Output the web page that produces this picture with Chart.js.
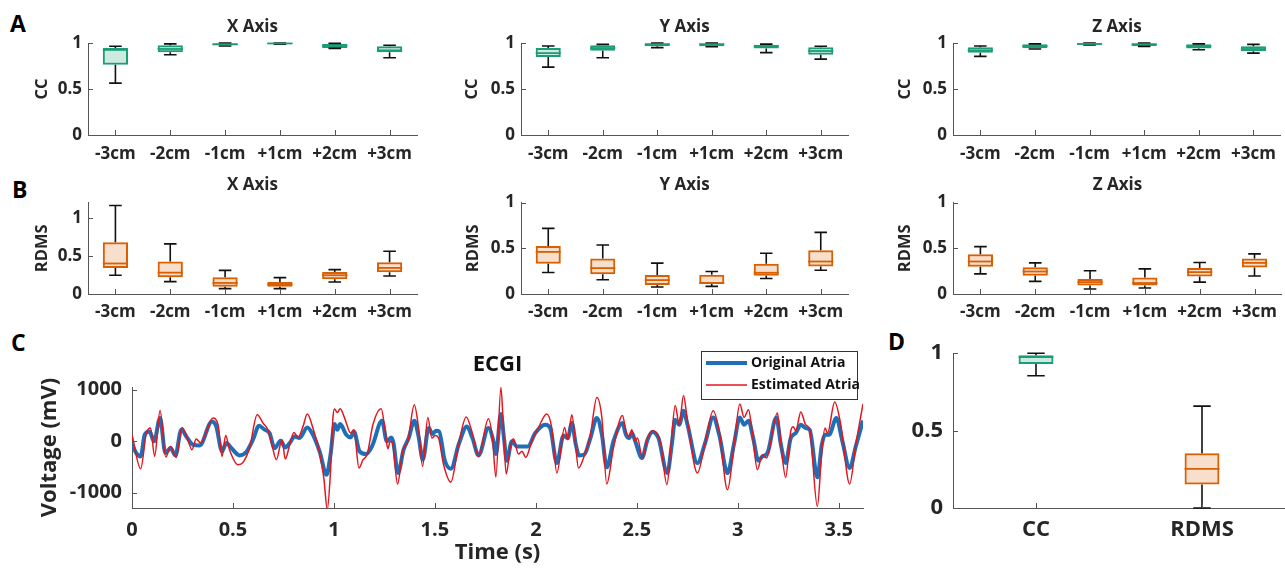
<!DOCTYPE html>
<html>
<head>
<meta charset="utf-8">
<script src="https://cdn.jsdelivr.net/npm/chart.js@4.4.0/dist/chart.umd.min.js"></script>
<style>
body { margin: 0; background: #fff; width: 1285px; height: 575px; position: relative; overflow: hidden; font-family: "Open Sans", sans-serif; }
canvas { position: absolute; }
.tag { position: absolute; font-weight: bold; font-size: 23px; line-height: 23px; color: #000; }
</style>
</head>
<body>
<div class="tag" style="left:10px;top:12px">A</div>
<div class="tag" style="left:12px;top:178px">B</div>
<div class="tag" style="left:11px;top:331px">C</div>
<div class="tag" style="left:888px;top:330px">D</div>

<canvas id="ccX" width="425" height="165" style="left:0px;top:0px"></canvas>
<canvas id="ccY" width="426" height="165" style="left:430px;top:0px"></canvas>
<canvas id="ccZ" width="430" height="165" style="left:855px;top:0px"></canvas>
<canvas id="rdmsX" width="425" height="160" style="left:0px;top:165px"></canvas>
<canvas id="rdmsY" width="426" height="160" style="left:430px;top:165px"></canvas>
<canvas id="rdmsZ" width="430" height="160" style="left:855px;top:165px"></canvas>
<canvas id="ecgi" width="870" height="245" style="left:0px;top:330px"></canvas>
<canvas id="summary" width="385" height="245" style="left:900px;top:330px"></canvas>

<script>
// electrode shifts
positions = ['-3cm', '-2cm', '-1cm', '+1cm', '+2cm', '+3cm']

// each row: lower whisker, q1, median, q3, upper whisker
ccX = [
    [0.564, 0.764, 0.925, 0.945, 0.964],
    [0.873, 0.900, 0.935, 0.975, 0.990],
    [0.967, 0.975, 0.985, 0.996, 1.000],
    [0.988, 0.990, 0.995, 1.000, 1.000],
    [0.942, 0.945, 0.971, 0.990, 0.996],
    [0.840, 0.900, 0.920, 0.964, 0.975]
]
ccY = [
    [0.738, 0.847, 0.890, 0.945, 0.967],
    [0.840, 0.916, 0.945, 0.975, 0.985],
    [0.950, 0.964, 0.985, 0.996, 1.000],
    [0.960, 0.965, 0.985, 0.996, 1.000],
    [0.895, 0.940, 0.964, 0.982, 0.988],
    [0.825, 0.873, 0.913, 0.953, 0.964]
]
ccZ = [
    [0.855, 0.895, 0.920, 0.953, 0.967],
    [0.935, 0.942, 0.967, 0.987, 0.990],
    [0.980, 0.982, 0.990, 0.998, 1.000],
    [0.963, 0.967, 0.985, 0.996, 1.000],
    [0.927, 0.940, 0.965, 0.987, 0.990],
    [0.890, 0.910, 0.935, 0.964, 0.985]
]
rdmsX = [
    [0.246, 0.342, 0.400, 0.680, 1.160],
    [0.162, 0.219, 0.280, 0.425, 0.658],
    [0.070, 0.096, 0.145, 0.219, 0.310],
    [0.070, 0.096, 0.127, 0.158, 0.215],
    [0.158, 0.193, 0.246, 0.290, 0.320],
    [0.237, 0.285, 0.342, 0.417, 0.560]
]
rdmsY = [
    [0.235, 0.330, 0.460, 0.525, 0.717],
    [0.156, 0.217, 0.283, 0.388, 0.536],
    [0.076, 0.098, 0.152, 0.207, 0.337],
    [0.083, 0.109, 0.120, 0.210, 0.246],
    [0.170, 0.200, 0.232, 0.330, 0.446],
    [0.260, 0.300, 0.355, 0.478, 0.674]
]
rdmsZ = [
    [0.220, 0.297, 0.355, 0.435, 0.518],
    [0.138, 0.200, 0.246, 0.293, 0.340],
    [0.054, 0.094, 0.130, 0.163, 0.254],
    [0.065, 0.094, 0.120, 0.180, 0.275],
    [0.130, 0.192, 0.239, 0.283, 0.344],
    [0.196, 0.290, 0.340, 0.388, 0.438]
]

summaryLabels = ['CC', 'RDMS']
summaryStats = [
    [0.854, 0.930, 0.975, 0.987, 1.000],
    [0.000, 0.152, 0.253, 0.354, 0.658]
]

unitTicks = [0, 0.5, 1]
timeTicks = [0, 0.5, 1, 1.5, 2, 2.5, 3, 3.5]
voltTicks = [-1000, 0, 1000]

// ECGI traces (s, mV), read at turning points
origTime = [0, 0.021, 0.043, 0.063, 0.087, 0.109, 0.139, 0.165, 0.191, 0.215, 0.244, 0.274, 0.302, 0.335, 0.396, 0.417,
    0.446, 0.467, 0.492, 0.533, 0.566, 0.599, 0.629, 0.657, 0.681, 0.706, 0.736, 0.759, 0.781, 0.805, 0.83, 0.868,
    0.896, 0.929, 0.964, 0.983, 1.003, 1.017, 1.031, 1.061, 1.083, 1.099, 1.127, 1.16, 1.19, 1.238, 1.262, 1.284,
    1.295, 1.317, 1.345, 1.37, 1.398, 1.419, 1.44, 1.469, 1.488, 1.505, 1.521, 1.548, 1.579, 1.62, 1.658, 1.686,
    1.716, 1.765, 1.79, 1.802, 1.827, 1.842, 1.856, 1.881, 1.906, 1.931, 1.96, 1.997, 2.046, 2.071, 2.104, 2.137,
    2.158, 2.178, 2.198, 2.214, 2.239, 2.269, 2.302, 2.327, 2.351, 2.384, 2.429, 2.446, 2.462, 2.475, 2.495, 2.525,
    2.553, 2.577, 2.607, 2.651, 2.673, 2.69, 2.71, 2.731, 2.751, 2.8, 2.838, 2.878, 2.908, 2.949, 2.982, 3.01,
    3.031, 3.053, 3.076, 3.102, 3.122, 3.147, 3.191, 3.212, 3.237, 3.262, 3.287, 3.312, 3.336, 3.356, 3.394, 3.416,
    3.432, 3.452, 3.488, 3.518, 3.554, 3.584, 3.62]
origVolt = [-58, -233, -298, 123, 188, -6, 446, -233, -136, -278, 220, 58, -71, -84, 382, 285,
    -200, -39, -136, -278, -213, 26, 298, 220, 155, -136, 6, -123, -39, 91, 58, 265,
    123, -200, -653, -265, 330, 220, 330, 123, 71, 188, -200, -252, -90, 395, -6, 71,
    -39, -621, -168, 58, 395, 91, -362, 252, 136, 200, 188, -362, -537, -39, 285, 58,
    -278, 252, -6, -252, 524, 58, -382, -6, -104, -104, -104, 155, 317, 252, -427, 110,
    58, 349, -71, -278, -265, 45, 446, 123, -511, -6, 349, 123, 58, 155, -39, -330,
    26, 175, 58, -621, -71, 414, 317, 589, 317, -427, -39, 459, 123, -621, -39, 459,
    317, 395, 58, -382, -298, -233, 459, -39, -427, 58, 155, 317, 252, 220, -705, -71,
    123, 123, 446, -6, -524, -104, 400]

estTime = [0, 0.043, 0.071, 0.092, 0.112, 0.139, 0.167, 0.191, 0.219, 0.248, 0.274, 0.297, 0.318, 0.34, 0.401, 0.426,
    0.446, 0.464, 0.483, 0.525, 0.55, 0.582, 0.62, 0.649, 0.673, 0.693, 0.715, 0.743, 0.759, 0.781, 0.802, 0.822,
    0.847, 0.868, 0.896, 0.929, 0.95, 0.967, 0.983, 0.995, 1.003, 1.017, 1.031, 1.053, 1.083, 1.099, 1.124, 1.144,
    1.165, 1.193, 1.234, 1.254, 1.267, 1.279, 1.29, 1.315, 1.34, 1.366, 1.398, 1.419, 1.439, 1.465, 1.485, 1.502,
    1.518, 1.543, 1.579, 1.617, 1.655, 1.683, 1.716, 1.765, 1.785, 1.802, 1.827, 1.84, 1.853, 1.873, 1.889, 1.914,
    1.931, 1.95, 1.98, 2.013, 2.054, 2.079, 2.104, 2.142, 2.158, 2.178, 2.195, 2.211, 2.236, 2.269, 2.302, 2.327,
    2.351, 2.384, 2.429, 2.446, 2.462, 2.475, 2.492, 2.503, 2.528, 2.553, 2.577, 2.602, 2.619, 2.649, 2.668, 2.69,
    2.71, 2.731, 2.751, 2.8, 2.838, 2.878, 2.908, 2.949, 2.982, 3.01, 3.031, 3.053, 3.073, 3.097, 3.122, 3.142,
    3.196, 3.212, 3.237, 3.262, 3.275, 3.287, 3.312, 3.336, 3.356, 3.394, 3.416, 3.432, 3.444, 3.48, 3.51, 3.554,
    3.584, 3.62]
estVolt = [123, -537, 155, 252, -298, 595, -310, -104, -317, 265, 58, -168, 39, -39, 446, 317,
    -298, 110, -168, -459, -414, -136, 511, 349, 220, -71, -362, 26, -349, -71, 168, 71,
    285, 524, 252, -233, -718, -1330, -589, 446, 621, 556, 628, 446, 155, 220, -524, -362,
    -252, 317, 628, 188, -149, -6, -39, -835, -200, -6, 705, 252, -492, 459, 58, 110,
    58, -459, -796, -71, 466, 188, -298, 433, 58, -699, 1042, 188, -641, -136, 45, -252,
    -200, -317, -6, 265, 524, 252, -621, 265, 26, 511, -6, -524, -330, 91, 848, 446,
    -835, -136, 498, 188, 91, 220, -6, 58, -330, 58, 200, 123, -71, -848, -136, 692,
    317, 886, 382, -621, -39, 589, 188, -945, -71, 718, 459, 608, 123, -556, -265, -330,
    543, -6, -705, 188, 280, 200, 563, 317, 220, -1268, -200, 252, 155, 757, 317, -835,
    -71, 720]

green = '#1b9e77'
greenFill = 'rgba(27, 158, 119, 0.22)'
orange = '#d95f02'
orangeFill = 'rgba(217, 95, 2, 0.2)'
axisColor = '#555555'

Chart.defaults.font.family = '"Open Sans", sans-serif'
Chart.defaults.font.weight = 'bold'
Chart.defaults.color = '#262626'

// whiskers, caps and median line on top of the floating bars
const boxPlot = {
    id: 'boxPlot',
    afterDatasetsDraw(chart) {
        const ctx = chart.ctx
        const y = chart.scales.y
        chart.data.datasets.forEach((ds, di) => {
            const meta = chart.getDatasetMeta(di)
            ds.stats.forEach((s, i) => {
                const bar = meta.data[i]
                const cx = bar.x
                const cap = bar.width / 4
                const col = Array.isArray(ds.borderColor) ? ds.borderColor[i] : ds.borderColor
                ctx.save()
                ctx.strokeStyle = '#111'
                ctx.lineWidth = 1.6
                ctx.beginPath()
                ctx.moveTo(cx, y.getPixelForValue(s[3]))
                ctx.lineTo(cx, y.getPixelForValue(s[4]))
                ctx.moveTo(cx - cap, y.getPixelForValue(s[4]))
                ctx.lineTo(cx + cap, y.getPixelForValue(s[4]))
                ctx.moveTo(cx, y.getPixelForValue(s[1]))
                ctx.lineTo(cx, y.getPixelForValue(s[0]))
                ctx.moveTo(cx - cap, y.getPixelForValue(s[0]))
                ctx.lineTo(cx + cap, y.getPixelForValue(s[0]))
                ctx.stroke()
                ctx.strokeStyle = col
                ctx.lineWidth = 1.8
                ctx.beginPath()
                ctx.moveTo(cx - bar.width / 2, y.getPixelForValue(s[2]))
                ctx.lineTo(cx + bar.width / 2, y.getPixelForValue(s[2]))
                ctx.stroke()
                ctx.restore()
            })
        })
    }
}

// matlab style ticks pointing into the plot
const inTicks = {
    id: 'inTicks',
    afterDraw(chart) {
        const { ctx, chartArea: a } = chart
        const x = chart.scales.x, y = chart.scales.y
        ctx.save()
        ctx.strokeStyle = axisColor
        ctx.lineWidth = 1
        ctx.beginPath()
        x.ticks.forEach((t, i) => {
            const px = Math.round(x.getPixelForTick(i)) + 0.5
            ctx.moveTo(px, a.bottom)
            ctx.lineTo(px, a.bottom - 5)
        })
        y.ticks.forEach((t, i) => {
            const py = Math.round(y.getPixelForTick(i)) + 0.5
            ctx.moveTo(a.left, py)
            ctx.lineTo(a.left + 5, py)
        })
        ctx.stroke()
        ctx.restore()
    }
}

function boxChart(id, labels, stats, o) {
    return new Chart(document.getElementById(id), {
        type: 'bar',
        data: {
            labels: labels,
            datasets: [{
                data: stats.map(s => [s[1], s[3]]),
                stats: stats,
                backgroundColor: o.fill,
                borderColor: o.stroke,
                borderWidth: 2,
                borderSkipped: false,
                barPercentage: o.barPct,
                categoryPercentage: 1
            }]
        },
        options: {
            responsive: false,
            animation: false,
            events: [],
            layout: { padding: { top: o.padTop || 0, right: o.padRight, bottom: 0, left: 0 } },
            plugins: {
                legend: { display: false },
                tooltip: { enabled: false },
                title: o.title ? {
                    display: true, text: o.title, fullSize: false, color: '#262626',
                    font: { size: 17, weight: 'bold' },
                    padding: { top: o.titleTop, bottom: o.titleBottom }
                } : { display: false }
            },
            scales: {
                x: {
                    grid: { display: false, drawTicks: false },
                    border: { color: axisColor, width: 1 },
                    ticks: { font: { size: o.tickSize }, padding: o.xPad, maxRotation: 0, autoSkip: false },
                    afterFit: s => { s.height = o.xHeight }
                },
                y: {
                    min: 0,
                    max: o.yMax,
                    grid: { display: false, drawTicks: false },
                    border: { color: axisColor, width: 1 },
                    afterBuildTicks: s => { s.ticks = unitTicks.map(v => ({ value: v })) },
                    ticks: { font: { size: o.tickSize }, padding: o.yPad, callback: v => String(v) },
                    title: o.yTitle ? {
                        display: true, text: o.yTitle, font: { size: 16.5 },
                        padding: { top: o.yTitlePad, bottom: 0 }
                    } : { display: false },
                    afterFit: s => { s.width = o.yWidth }
                }
            }
        },
        plugins: [boxPlot, inTicks]
    })
}

const rowA = { fill: greenFill, stroke: green, barPct: 0.46, tickSize: 17, xPad: 8.8, xHeight: 30, yMax: 1, yPad: 6,
    yTitle: 'CC', titleTop: 16.8, titleBottom: 5.8 }
const rowB = { fill: orangeFill, stroke: orange, barPct: 0.46, tickSize: 17, xPad: 7.8, xHeight: 31, yPad: 6,
    yTitle: 'RDMS', titleTop: 9.8, titleBottom: 7.3 }

boxChart('ccX', positions, ccX, { ...rowA, title: 'X Axis', yWidth: 88, yTitlePad: 32, padRight: 8 })
boxChart('ccY', positions, ccY, { ...rowA, title: 'Y Axis', yWidth: 91, yTitlePad: 32.4, padRight: 8 })
boxChart('ccZ', positions, ccZ, { ...rowA, title: 'Z Axis', yWidth: 98, yTitlePad: 40.4, padRight: 3 })
boxChart('rdmsX', positions, rdmsX, { ...rowB, title: 'X Axis', yMax: 1.2, yWidth: 88, yTitlePad: 32, padRight: 8 })
boxChart('rdmsY', positions, rdmsY, { ...rowB, title: 'Y Axis', yMax: 1, yWidth: 91, yTitlePad: 33.4, padRight: 8 })
boxChart('rdmsZ', positions, rdmsZ, { ...rowB, title: 'Z Axis', yMax: 1, yWidth: 98, yTitlePad: 40.4, padRight: 3 })

boxChart('summary', summaryLabels, summaryStats, {
    fill: [greenFill, orangeFill], stroke: [green, orange], barPct: 0.21, tickSize: 22,
    xPad: 8.8, xHeight: 67, yMax: 1, yPad: 10, yWidth: 53, padRight: 0, padTop: 20
})

// legend box drawn inside the top right of the plot
const atriaLegend = {
    id: 'atriaLegend',
    afterDraw(chart) {
        const { ctx, chartArea: a } = chart
        const w = 156, h = 48
        const left = a.right - 6 - w, top = a.top - 36
        ctx.save()
        ctx.fillStyle = '#fff'
        ctx.fillRect(left, top, w, h)
        ctx.strokeStyle = '#333'
        ctx.lineWidth = 1
        ctx.strokeRect(left + 0.5, top + 0.5, w, h)
        ctx.font = 'bold 14px "Open Sans"'
        ctx.textBaseline = 'middle'
        chart.data.datasets.slice().reverse().forEach((ds, i) => {
            const yy = top + 12 + i * 22
            ctx.strokeStyle = ds.borderColor
            ctx.lineWidth = ds.borderWidth
            ctx.beginPath()
            ctx.moveTo(left + 5, yy)
            ctx.lineTo(left + 46, yy)
            ctx.stroke()
            ctx.fillStyle = '#111'
            ctx.fillText(ds.label, left + 50, yy)
        })
        ctx.restore()
    }
}

new Chart(document.getElementById('ecgi'), {
    type: 'line',
    data: {
        datasets: [
            {
                label: 'Estimated Atria',
                data: estTime.map((t, i) => ({ x: t, y: estVolt[i] })),
                borderColor: '#e3161e',
                borderWidth: 1.5,
                pointRadius: 0,
                cubicInterpolationMode: 'monotone'
            },
            {
                label: 'Original Atria',
                data: origTime.map((t, i) => ({ x: t, y: origVolt[i] })),
                borderColor: '#1f6fb8',
                borderWidth: 4,
                pointRadius: 0,
                cubicInterpolationMode: 'monotone'
            }
        ]
    },
    options: {
        responsive: false,
        animation: false,
        events: [],
        layout: { padding: { top: 0, right: 7, bottom: 0, left: 0 } },
        plugins: {
            legend: { display: false },
            tooltip: { enabled: false },
            title: {
                display: true, text: 'ECGI', fullSize: false, color: '#111',
                font: { size: 22, weight: 'bold' },
                padding: { top: 21.8, bottom: 8.8 }
            }
        },
        scales: {
            x: {
                type: 'linear',
                min: 0,
                max: 3.62,
                grid: { display: false, drawTicks: false },
                border: { color: axisColor, width: 1 },
                afterBuildTicks: s => { s.ticks = timeTicks.map(v => ({ value: v })) },
                ticks: { font: { size: 20 }, padding: 10, maxRotation: 0, callback: v => String(v) },
                title: { display: true, text: 'Time (s)', font: { size: 22 }, padding: { top: 0, bottom: 8.8 } },
                afterFit: s => { s.height = 67 }
            },
            y: {
                min: -1300,
                max: 1050,
                grid: { display: false, drawTicks: false },
                border: { color: axisColor, width: 1 },
                afterBuildTicks: s => { s.ticks = voltTicks.map(v => ({ value: v })) },
                ticks: { font: { size: 20 }, padding: 10, callback: v => String(v) },
                title: { display: true, text: 'Voltage (mV)', font: { size: 22 }, padding: { top: 36.8, bottom: 0 } },
                afterFit: s => { s.width = 132 }
            }
        }
    },
    plugins: [inTicks, atriaLegend]
})
</script>
</body>
</html>
